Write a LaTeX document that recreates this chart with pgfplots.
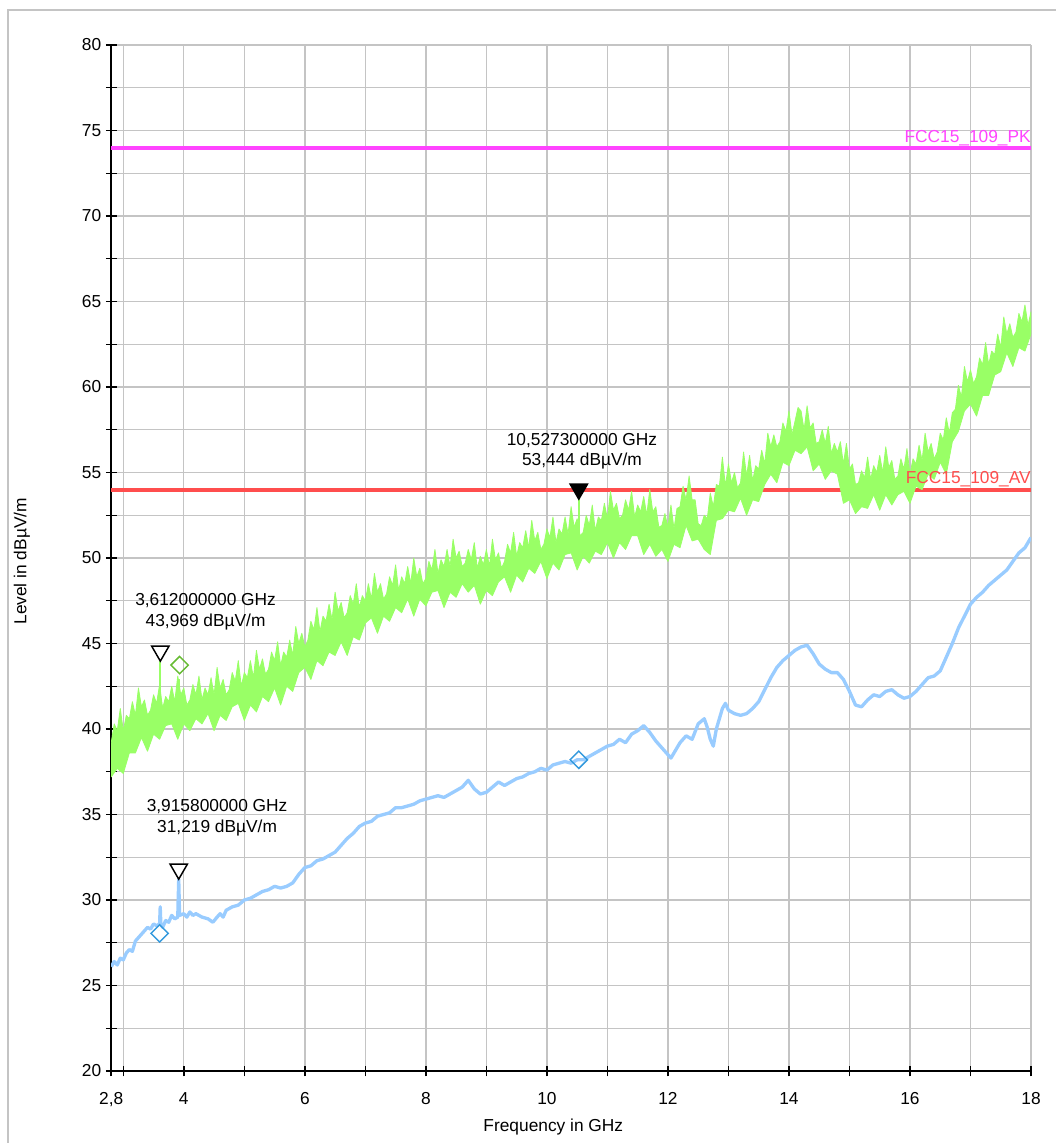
\documentclass[border=0pt]{standalone}
\usepackage{fontspec}
\setmainfont{Liberation Sans}
\usepackage{pgfplots}
\pgfplotsset{compat=1.18}
\definecolor{pkc}{HTML}{FF44FF}
\definecolor{avc}{HTML}{FF4D4D}
\definecolor{grn}{HTML}{99FF66}
\definecolor{blu}{HTML}{99CCFF}
\definecolor{gridc}{HTML}{C4C4C4}
\definecolor{dgrn}{HTML}{66BB33}
\definecolor{dblu}{HTML}{3399DD}
\newcommand\lbl{\fontsize{13}{15.5}\selectfont}
\begin{document}
\begin{tikzpicture}
\path[use as bounding box] (0,0) rectangle (792pt,-857.25pt);
\draw[gridc, line width=1.1pt] (6pt,-7.5pt) rectangle (810pt,-880pt);
\begin{axis}[
  at={(83.4pt,-803.25pt)}, anchor=south west,
  scale only axis, width=689.85pt, height=769.5pt,
  xmin=2.8, xmax=18, ymin=20, ymax=80,
  axis x line*=bottom, axis y line*=left,
  axis line style={black, line width=1.1pt},
  xtick={2.8,4,6,...,18}, minor xtick={3,5,...,17},
  ytick={20,25,...,80}, minor ytick={22.5,27.5,...,77.5},
  grid=both,
  major grid style={gridc, line width=1pt},
  minor grid style={gridc, line width=1pt},
  tick align=center, major tick length=8pt, minor tick length=8pt,
  every tick/.style={black, line width=1.1pt},
  every minor tick/.style={black, line width=1.1pt},
  ticklabel style={font=\lbl},
  xticklabel style={/pgf/number format/use comma, yshift=-8.5pt},
  /pgf/number format/assume math mode=true,
]
% limit lines
\addplot[pkc, line width=3pt] coordinates {(2.8,74) (18,74)};
\addplot[avc, line width=3pt] coordinates {(2.8,54) (18,54)};
% peak trace: upper edge left to right, then lower edge back
\addplot[draw=grn, fill=grn, line width=0.6pt, line join=round] coordinates {
(2.80,39.2) (2.85,40.3) (2.90,39.9) (2.95,41.2) (3.00,39.9) (3.05,40.8) (3.10,40.6) (3.15,41.6)
(3.20,40.8) (3.25,42.4) (3.30,41.3) (3.35,41.7) (3.40,40.8) (3.45,41.1) (3.50,42.0) (3.55,41.5)
(3.60,42.6) (3.65,41.2) (3.70,41.9) (3.75,41.6) (3.80,42.5) (3.85,41.6) (3.90,43.1) (3.95,42.0)
(4.00,42.4) (4.05,41.4) (4.10,41.7) (4.15,42.6) (4.20,42.0) (4.25,43.1) (4.30,41.7) (4.35,42.4)
(4.40,42.0) (4.45,43.0) (4.50,42.0) (4.55,43.6) (4.60,42.4) (4.65,42.9) (4.70,42.0) (4.75,42.3)
(4.80,43.3) (4.85,42.8) (4.90,44.0) (4.95,42.5) (5.00,43.3) (5.05,43.0) (5.10,44.0) (5.15,43.0)
(5.20,44.6) (5.25,43.5) (5.30,44.1) (5.35,43.2) (5.40,43.5) (5.45,44.5) (5.50,44.0) (5.55,45.1)
(5.60,43.7) (5.65,44.5) (5.70,44.2) (5.75,45.2) (5.80,44.3) (5.85,46.0) (5.90,45.0) (5.95,45.6)
(6.00,44.8) (6.05,45.2) (6.10,46.3) (6.15,45.8) (6.20,47.1) (6.25,45.7) (6.30,46.6) (6.35,46.3)
(6.40,47.3) (6.45,46.4) (6.50,48.0) (6.55,46.9) (6.60,47.4) (6.65,46.5) (6.70,46.8) (6.75,47.8)
(6.80,47.3) (6.85,48.5) (6.90,47.1) (6.95,47.8) (7.00,47.5) (7.05,48.5) (7.10,47.6) (7.15,49.1)
(7.20,48.0) (7.25,48.5) (7.30,47.6) (7.35,47.9) (7.40,48.9) (7.45,48.4) (7.50,49.6) (7.55,48.1)
(7.60,48.9) (7.65,48.5) (7.70,49.5) (7.75,48.5) (7.80,50.0) (7.85,48.9) (7.90,49.4) (7.95,48.5)
(8.00,48.8) (8.05,49.8) (8.10,49.3) (8.15,50.5) (8.20,49.1) (8.25,49.9) (8.30,49.5) (8.35,50.5)
(8.40,49.5) (8.45,51.1) (8.50,50.0) (8.55,50.4) (8.60,49.5) (8.65,49.7) (8.70,50.5) (8.75,49.9)
(8.80,50.9) (8.85,49.4) (8.90,50.1) (8.95,49.6) (9.00,50.5) (9.05,49.5) (9.10,51.1) (9.15,49.9)
(9.20,50.3) (9.25,49.4) (9.30,49.8) (9.35,50.8) (9.40,50.3) (9.45,51.5) (9.50,50.1) (9.55,50.9)
(9.60,50.6) (9.65,51.6) (9.70,50.6) (9.75,52.2) (9.80,51.0) (9.85,51.5) (9.90,50.5) (9.95,50.8)
(10.00,51.7) (10.05,51.2) (10.10,52.4) (10.15,50.9) (10.20,51.7) (10.25,51.4) (10.30,52.4) (10.35,51.4)
(10.40,53.0) (10.45,51.8) (10.50,52.3) (10.55,51.3) (10.60,51.5) (10.65,52.5) (10.70,51.9) (10.75,53.1)
(10.80,51.6) (10.85,52.4) (10.90,52.2) (10.95,53.2) (11.00,52.3) (11.05,53.9) (11.10,52.8) (11.15,53.2)
(11.20,52.3) (11.25,52.5) (11.30,53.4) (11.35,52.8) (11.40,53.9) (11.45,52.4) (11.50,53.1) (11.55,52.7)
(11.60,53.6) (11.65,52.5) (11.70,54.0) (11.75,52.7) (11.80,53.0) (11.85,51.8) (11.90,51.9) (11.95,52.6)
(12.00,51.8) (12.05,53.1) (12.10,51.7) (12.15,52.9) (12.20,53.0) (12.25,54.2) (12.30,53.4) (12.35,54.8)
(12.40,53.4) (12.45,53.4) (12.50,52.0) (12.55,51.9) (12.60,52.5) (12.65,52.3) (12.70,53.8) (12.75,53.0)
(12.80,54.3) (12.85,54.2) (12.90,55.9) (12.95,54.2) (13.00,55.5) (13.05,54.4) (13.10,55.0) (13.15,54.1)
(13.20,54.4) (13.25,56.2) (13.30,54.8) (13.35,56.0) (13.40,54.5) (13.45,55.4) (13.50,55.2) (13.55,56.3)
(13.60,55.5) (13.65,57.3) (13.70,56.5) (13.75,57.2) (13.80,56.5) (13.85,56.8) (13.90,57.9) (13.95,57.4)
(14.00,58.6) (14.05,57.2) (14.10,58.0) (14.15,58.8) (14.20,58.6) (14.25,57.5) (14.30,58.9) (14.35,57.6)
(14.40,57.9) (14.45,56.7) (14.50,56.8) (14.55,57.5) (14.60,56.7) (14.65,57.7) (14.70,56.1) (14.75,56.7)
(14.80,56.2) (14.85,56.8) (14.90,55.5) (14.95,56.7) (15.00,55.2) (15.05,55.5) (15.10,54.3) (15.15,54.4)
(15.20,55.1) (15.25,54.7) (15.30,55.9) (15.35,54.6) (15.40,55.4) (15.45,55.0) (15.50,56.0) (15.55,55.0)
(15.60,56.5) (15.65,55.3) (15.70,55.7) (15.75,54.6) (15.80,54.8) (15.85,55.8) (15.90,55.2) (15.95,56.4)
(16.00,54.9) (16.05,55.8) (16.10,55.5) (16.15,56.6) (16.20,55.7) (16.25,57.3) (16.30,56.2) (16.35,56.7)
(16.40,55.8) (16.45,56.2) (16.50,57.3) (16.55,56.9) (16.60,58.2) (16.65,57.3) (16.70,58.5) (16.75,58.7)
(16.80,60.1) (16.85,59.4) (16.90,61.2) (16.95,60.3) (17.00,61.0) (17.05,60.2) (17.10,60.6) (17.15,61.7)
(17.20,61.3) (17.25,62.6) (17.30,61.3) (17.35,62.1) (17.40,61.9) (17.45,63.1) (17.50,62.3) (17.55,64.1)
(17.60,63.1) (17.65,63.7) (17.70,62.9) (17.75,63.2) (17.80,64.3) (17.85,63.8) (17.90,64.8) (17.95,63.6)
(18.00,64.4)
(18.00,63.1) (17.90,62.1) (17.80,62.3) (17.70,61.2) (17.60,62.0) (17.50,60.9) (17.40,60.7) (17.30,59.5)
(17.20,59.5) (17.10,58.3) (17.00,59.0) (16.90,58.6) (16.80,57.4) (16.70,56.8) (16.60,54.9) (16.50,55.6)
(16.40,54.6) (16.30,54.9) (16.20,54.0) (16.10,54.2) (16.00,53.2) (15.90,53.9) (15.80,53.7) (15.70,53.1)
(15.60,53.7) (15.50,52.8) (15.40,53.7) (15.30,52.9) (15.20,53.0) (15.10,52.6) (15.00,53.4) (14.90,53.2)
(14.80,54.9) (14.70,55.1) (14.60,54.6) (14.50,55.5) (14.40,55.1) (14.30,56.5) (14.20,56.1) (14.10,56.3)
(14.00,55.4) (13.90,55.6) (13.80,54.4) (13.70,54.9) (13.60,54.3) (13.50,53.3) (13.40,53.4) (13.30,52.5)
(13.20,53.5) (13.10,52.7) (13.00,52.8) (12.90,52.3) (12.80,52.2) (12.70,50.2) (12.60,50.5) (12.50,51.1)
(12.40,51.0) (12.30,51.9) (12.20,50.6) (12.10,50.8) (12.00,49.8) (11.90,50.5) (11.80,50.1) (11.70,50.8)
(11.60,50.2) (11.50,51.3) (11.40,51.3) (11.30,50.5) (11.20,50.9) (11.10,50.0) (11.00,50.9) (10.90,50.2)
(10.80,50.4) (10.70,49.7) (10.60,50.1) (10.50,49.3) (10.40,50.3) (10.30,50.2) (10.20,49.3) (10.10,49.7)
(10.00,48.8) (9.90,49.8) (9.80,49.1) (9.70,49.4) (9.60,48.6) (9.50,49.0) (9.40,48.0) (9.30,48.9)
(9.20,48.6) (9.10,47.8) (9.00,48.1) (8.90,47.3) (8.80,48.4) (8.70,48.0) (8.60,48.5) (8.50,47.7)
(8.40,48.0) (8.30,47.1) (8.20,48.1) (8.10,48.0) (8.00,47.2) (7.90,47.6) (7.80,46.6) (7.70,47.6)
(7.60,46.8) (7.50,47.1) (7.40,46.3) (7.30,46.6) (7.20,45.6) (7.10,46.5) (7.00,46.2) (6.90,45.2)
(6.80,45.4) (6.70,44.3) (6.60,45.1) (6.50,44.3) (6.40,44.5) (6.30,43.7) (6.20,44.0) (6.10,42.9)
(6.00,43.6) (5.90,43.3) (5.80,42.2) (5.70,42.5) (5.60,41.4) (5.50,42.4) (5.40,41.6) (5.30,41.9)
(5.20,41.0) (5.10,41.4) (5.00,40.5) (4.90,41.5) (4.80,41.3) (4.70,40.5) (4.60,40.8) (4.50,39.9)
(4.40,40.9) (4.30,40.3) (4.20,40.6) (4.10,39.9) (4.00,40.3) (3.90,39.4) (3.80,40.3) (3.70,40.2)
(3.60,39.4) (3.50,39.7) (3.40,38.7) (3.30,39.5) (3.20,38.6) (3.10,38.6) (3.00,37.4) (2.90,37.7)
(2.80,37.2)
} -- cycle;
\addplot[grn, line width=1.3pt] coordinates {(3.612,41.0) (3.612,43.969)};
\addplot[grn, line width=1.3pt] coordinates {(3.916,41.5) (3.916,42.9)};
\addplot[grn, line width=1.3pt] coordinates {(10.5273,51.0) (10.5273,53.444)};
% average trace
\addplot[blu, line width=2.5pt, line join=round] coordinates {
(2.80,26.1) (2.85,26.4) (2.90,26.2) (2.95,26.6) (3.00,26.5) (3.05,26.9) (3.10,27.1) (3.15,27.0)
(3.20,27.6) (3.25,27.8) (3.30,28.0) (3.35,28.2) (3.40,28.4) (3.45,28.3) (3.50,28.6) (3.55,28.5)
(3.60,28.6) (3.61,29.6) (3.62,28.6) (3.65,28.4) (3.70,28.8) (3.75,28.7) (3.80,29.1) (3.85,28.9)
(3.90,29.0) (3.9158,31.219) (3.93,29.1) (4.00,29.2) (4.05,29.0) (4.10,29.3) (4.15,29.1) (4.20,29.2)
(4.30,29.0) (4.40,28.9) (4.48,28.7) (4.55,29.0) (4.60,29.2) (4.65,29.0) (4.70,29.4) (4.80,29.6)
(4.90,29.7) (5.00,30.0) (5.10,30.1) (5.20,30.3) (5.30,30.5) (5.40,30.6) (5.50,30.8) (5.60,30.7)
(5.70,30.8) (5.80,31.0) (5.90,31.5) (6.00,31.9) (6.10,32.0) (6.20,32.3) (6.30,32.4) (6.40,32.6)
(6.50,32.8) (6.60,33.2) (6.70,33.6) (6.80,33.9) (6.90,34.3) (7.00,34.5) (7.10,34.6) (7.20,34.9)
(7.30,35.0) (7.40,35.1) (7.50,35.4) (7.60,35.4) (7.70,35.5) (7.80,35.6) (7.90,35.8) (8.00,35.9)
(8.10,36.0) (8.20,36.1) (8.30,36.0) (8.40,36.2) (8.50,36.4) (8.60,36.6) (8.70,37.0) (8.80,36.5)
(8.90,36.2) (9.00,36.3) (9.10,36.6) (9.20,36.9) (9.30,36.7) (9.40,36.9) (9.50,37.1) (9.60,37.2)
(9.70,37.4) (9.80,37.5) (9.90,37.7) (10.00,37.6) (10.10,37.9) (10.20,38.0) (10.30,38.1) (10.40,38.0)
(10.50,38.2) (10.60,38.2) (10.70,38.4) (10.80,38.6) (10.90,38.8) (11.00,39.0) (11.10,39.1) (11.20,39.4)
(11.30,39.2) (11.40,39.7) (11.50,39.9) (11.60,40.2) (11.70,39.8) (11.80,39.3) (11.90,38.9) (12.00,38.5)
(12.05,38.3) (12.10,38.6) (12.20,39.2) (12.30,39.6) (12.40,39.4) (12.50,40.3) (12.60,40.6) (12.65,40.1)
(12.70,39.4) (12.75,39.0) (12.80,40.0) (12.90,41.2) (12.95,41.5) (13.00,41.1) (13.10,40.9) (13.20,40.8)
(13.30,40.9) (13.40,41.2) (13.50,41.6) (13.60,42.3) (13.70,43.0) (13.80,43.6) (13.90,44.0) (14.00,44.3)
(14.10,44.6) (14.20,44.8) (14.30,44.9) (14.40,44.4) (14.50,43.8) (14.60,43.5) (14.70,43.3) (14.80,43.3)
(14.90,42.9) (15.00,42.2) (15.10,41.4) (15.20,41.3) (15.30,41.7) (15.40,42.0) (15.50,41.9) (15.60,42.2)
(15.70,42.3) (15.80,42.0) (15.90,41.8) (16.00,41.9) (16.10,42.2) (16.20,42.6) (16.30,43.0) (16.40,43.1)
(16.50,43.4) (16.60,44.2) (16.70,45.0) (16.80,45.9) (16.90,46.6) (17.00,47.3) (17.10,47.7) (17.20,48.0)
(17.30,48.4) (17.40,48.7) (17.50,49.0) (17.60,49.3) (17.70,49.8) (17.80,50.3) (17.90,50.6) (18.00,51.2)
};
% markers
\addplot[only marks, mark=square, mark size=4.6pt,
  mark options={dgrn, line width=1.1pt, rotate=45}] coordinates {(3.93,43.74)};
\addplot[only marks, mark=square, mark size=4.6pt,
  mark options={dblu, line width=1.1pt, rotate=45}] coordinates {(3.60,28.05) (10.527,38.2)};
\addplot[only marks, mark=triangle*, mark size=7.5pt,
  mark options={draw=black, fill=white, line width=1.1pt, yshift=7.5pt, rotate=180}]
  coordinates {(3.612,43.969) (3.9158,31.219)};
\addplot[only marks, mark=triangle*, mark size=7.5pt,
  mark options={draw=black, fill=black, line width=1.1pt, yshift=7.5pt, rotate=180}]
  coordinates {(10.5273,53.444)};
% texts
\node[pkc, anchor=base east, inner sep=0pt, font=\lbl] at (axis cs:18,74.3) {FCC15\_109\_PK};
\node[avc, anchor=base east, inner sep=0pt, font=\lbl] at (axis cs:18,54.33) {FCC15\_109\_AV};
\node[align=center, font=\lbl] at (axis cs:4.36,46.85) {3,612000000 GHz\\43,969 dBµV/m};
\node[align=center, font=\lbl] at (axis cs:4.55,34.8) {3,915800000 GHz\\31,219 dBµV/m};
\node[align=center, font=\lbl] at (axis cs:10.58,56.25) {10,527300000 GHz\\53,444 dBµV/m};
\end{axis}
\node[rotate=90, font=\lbl] at (16.5pt,-421pt) {Level in dBµV/m};
\node[font=\lbl] at (415pt,-845pt) {Frequency in GHz};
\end{tikzpicture}
\end{document}
